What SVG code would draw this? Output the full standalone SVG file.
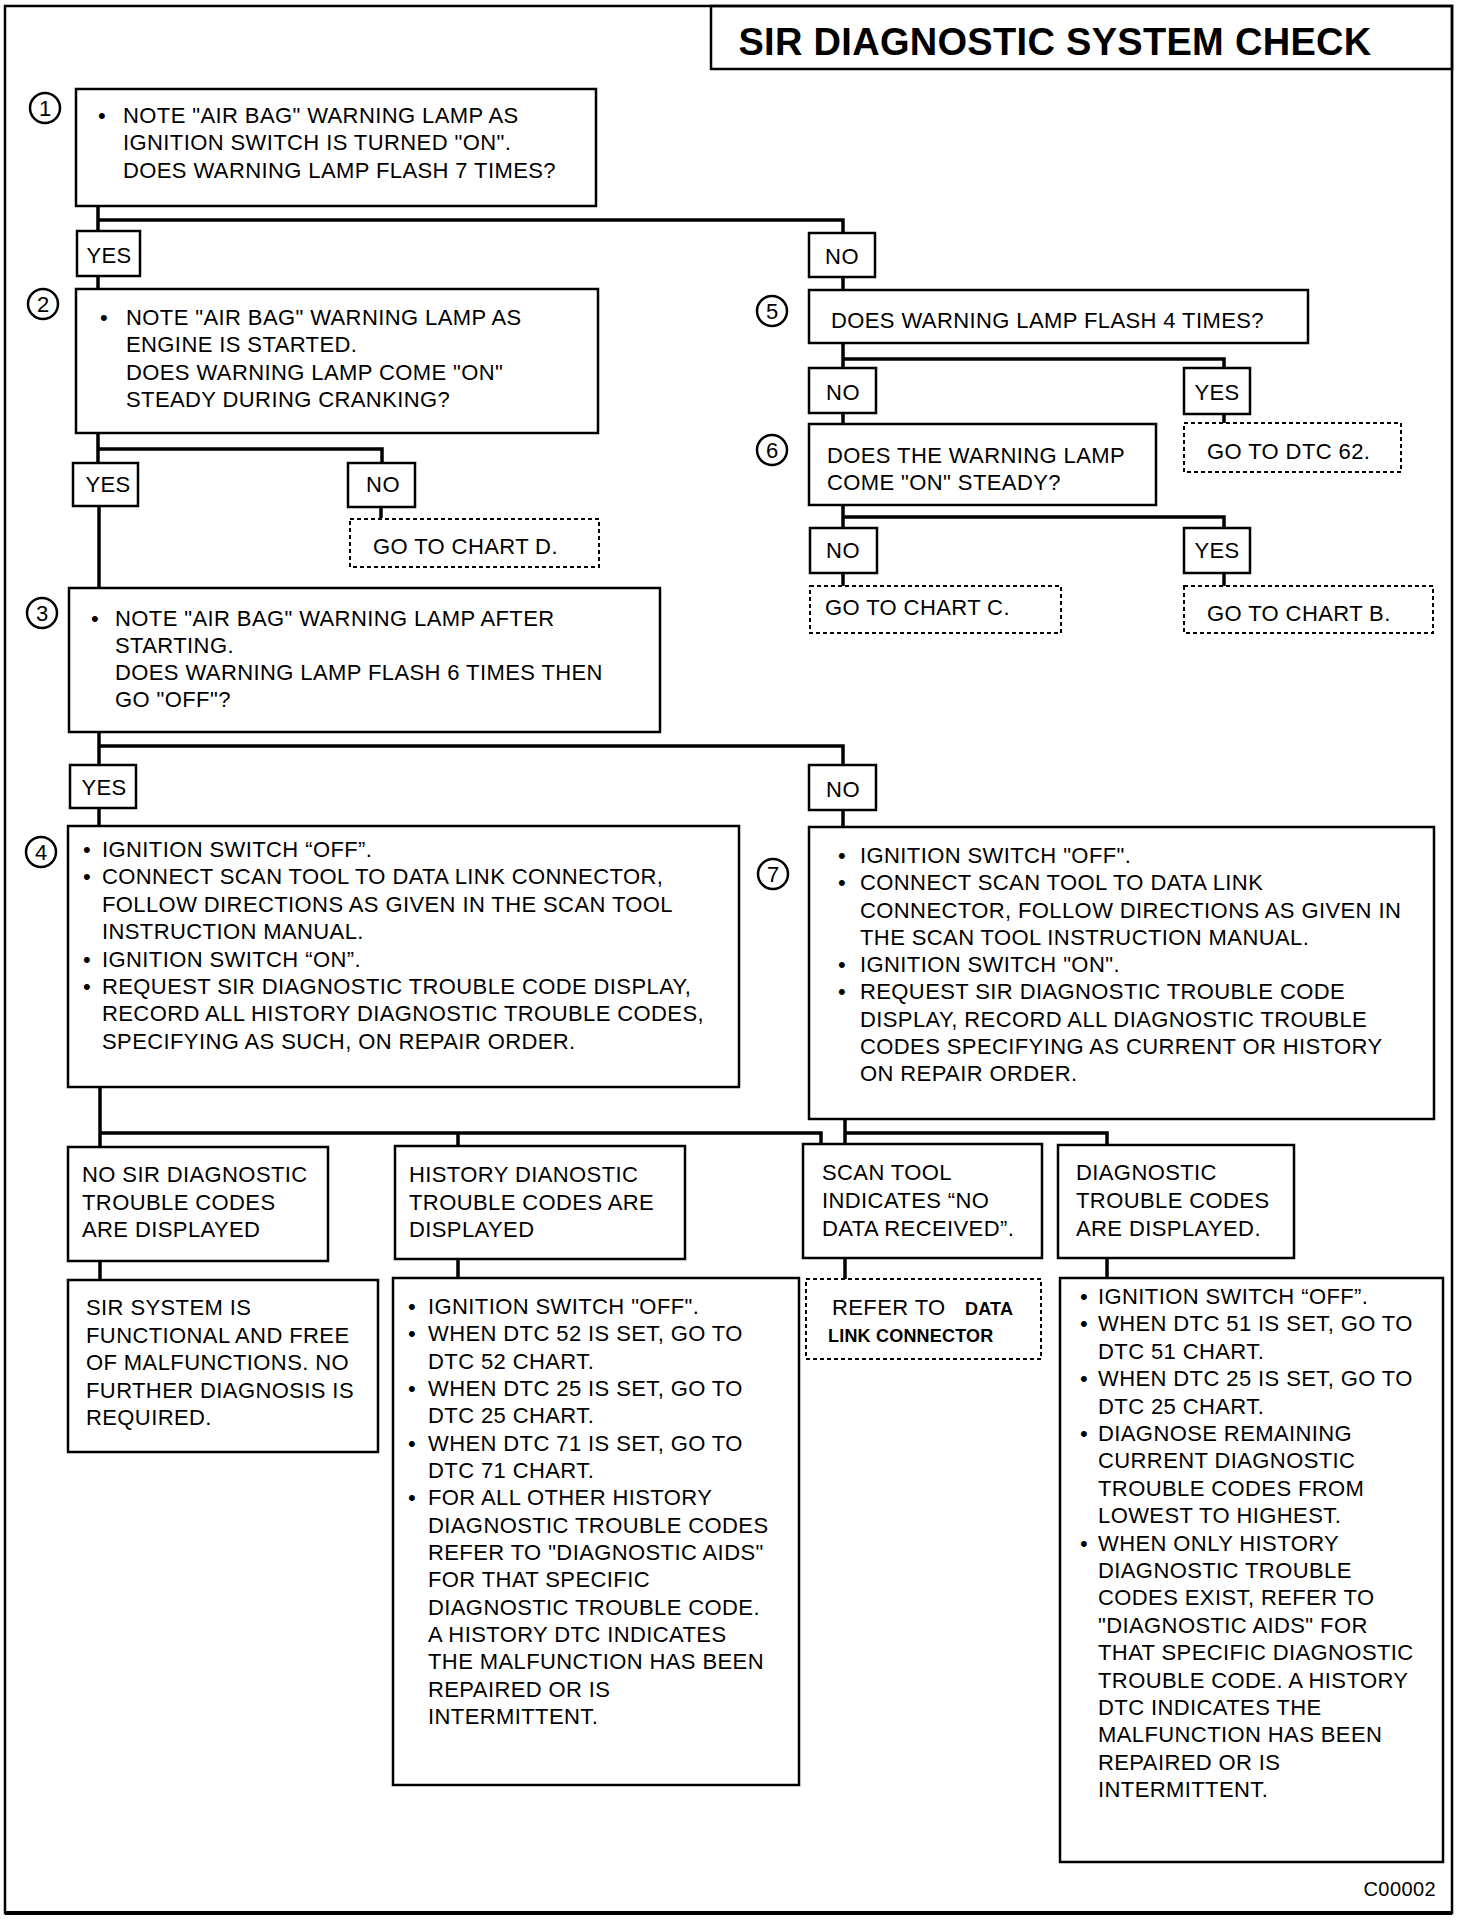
<svg xmlns="http://www.w3.org/2000/svg" width="1472" height="1922" viewBox="0 0 1472 1922">
<style>
.t{font-family:"Liberation Sans",Arial,sans-serif;font-size:22px;letter-spacing:0.4px;fill:#000}
.c{text-anchor:middle}
.b{font-weight:bold;font-size:18px;letter-spacing:0.2px}
.box{fill:#fff;stroke:#000;stroke-width:2.5}
.dash{fill:#fff;stroke:#000;stroke-width:2;stroke-dasharray:4 3}
.conn{fill:none;stroke:#000;stroke-width:3.5}
.circ{fill:#fff;stroke:#000;stroke-width:2.5}
.num{font-family:"Liberation Sans",Arial,sans-serif;font-size:22px;text-anchor:middle;fill:#000}
.frame{fill:none;stroke:#000;stroke-width:2.5}
</style>
<rect width="1472" height="1922" fill="#fff"/>
<g id="frame">
<rect class="frame" x="5" y="6" width="1447" height="1907"/>
<line x1="5" y1="1913" x2="1452" y2="1913" stroke="#000" stroke-width="4"/>
</g>
<g id="title">
<rect class="frame" x="711" y="6" width="741" height="63"/>
<text class="t" x="1055" y="55" style="font-weight:bold;font-size:38px;letter-spacing:0.3px;text-anchor:middle">SIR DIAGNOSTIC SYSTEM CHECK</text>
</g>
<g id="connectors">
<path class="conn" d="M98 206V231M98 220H843V233M98 276V289M843 277V289"/>
<path class="conn" d="M98 433V463M98 449H382V463M99 506V588M381 507V518"/>
<path class="conn" d="M99 732V765M99 746H843V765M99 808V826M843 810V827"/>
<path class="conn" d="M843 343V368M843 359H1224V368M843 413V424M1224 414V423"/>
<path class="conn" d="M843 505V528M843 517H1224V528M843 573V586M1224 573V586"/>
<path class="conn" d="M100 1087V1147M100 1133H821V1144M458 1133V1146M845 1119V1144M845 1133H1107V1145"/>
<path class="conn" d="M100 1261V1280M458 1259V1278M845 1258V1279M1107 1258V1278"/>
</g>
<g id="n1">
<circle class="circ" cx="45" cy="108" r="15"/><text class="num" x="45" y="116">1</text>
<rect class="box" x="76" y="89" width="520" height="117"/>
<text class="t" x="98" y="123">•</text>
<text class="t" x="123" y="123">NOTE "AIR BAG" WARNING LAMP AS</text>
<text class="t" x="123" y="150">IGNITION SWITCH IS TURNED "ON".</text>
<text class="t" x="123" y="178">DOES WARNING LAMP FLASH 7 TIMES?</text>
</g>
<g id="yes1"><rect class="box" x="77" y="231" width="63" height="45"/><text class="t c" x="109" y="263">YES</text></g>
<g id="no1"><rect class="box" x="809" y="233" width="66" height="44"/><text class="t c" x="842" y="264">NO</text></g>
<g id="n2">
<circle class="circ" cx="43" cy="304" r="15"/><text class="num" x="43" y="312">2</text>
<rect class="box" x="76" y="289" width="522" height="144"/>
<text class="t" x="100" y="325">•</text>
<text class="t" x="126" y="325">NOTE "AIR BAG" WARNING LAMP AS</text>
<text class="t" x="126" y="352">ENGINE IS STARTED.</text>
<text class="t" x="126" y="380">DOES WARNING LAMP COME "ON"</text>
<text class="t" x="126" y="407">STEADY DURING CRANKING?</text>
</g>
<g id="yes2"><rect class="box" x="73" y="463" width="65" height="43"/><text class="t c" x="108" y="492">YES</text></g>
<g id="no2"><rect class="box" x="348" y="463" width="67" height="44"/><text class="t c" x="383" y="492">NO</text></g>
<g id="chartD"><rect class="dash" x="350" y="519" width="249" height="48"/><text class="t" x="373" y="554">GO TO CHART D.</text></g>
<g id="n3">
<circle class="circ" cx="42" cy="613" r="15"/><text class="num" x="42" y="621">3</text>
<rect class="box" x="69" y="588" width="591" height="144"/>
<text class="t" x="91" y="626">•</text>
<text class="t" x="115" y="626">NOTE "AIR BAG" WARNING LAMP AFTER</text>
<text class="t" x="115" y="653">STARTING.</text>
<text class="t" x="115" y="680">DOES WARNING LAMP FLASH 6 TIMES THEN</text>
<text class="t" x="115" y="707">GO "OFF"?</text>
</g>
<g id="yes3"><rect class="box" x="70" y="765" width="66" height="43"/><text class="t c" x="104" y="795">YES</text></g>
<g id="no3"><rect class="box" x="809" y="765" width="67" height="45"/><text class="t c" x="843" y="797">NO</text></g>
<g id="n4">
<circle class="circ" cx="41" cy="852" r="15"/><text class="num" x="41" y="860">4</text>
<rect class="box" x="68" y="826" width="671" height="261"/>
<text class="t" x="83" y="857">•</text><text class="t" x="102" y="857">IGNITION SWITCH “OFF”.</text>
<text class="t" x="83" y="884">•</text><text class="t" x="102" y="884">CONNECT SCAN TOOL TO DATA LINK CONNECTOR,</text>
<text class="t" x="102" y="912">FOLLOW DIRECTIONS AS GIVEN IN THE SCAN TOOL</text>
<text class="t" x="102" y="939">INSTRUCTION MANUAL.</text>
<text class="t" x="83" y="967">•</text><text class="t" x="102" y="967">IGNITION SWITCH “ON”.</text>
<text class="t" x="83" y="994">•</text><text class="t" x="102" y="994">REQUEST SIR DIAGNOSTIC TROUBLE CODE DISPLAY,</text>
<text class="t" x="102" y="1021">RECORD ALL HISTORY DIAGNOSTIC TROUBLE CODES,</text>
<text class="t" x="102" y="1049">SPECIFYING AS SUCH, ON REPAIR ORDER.</text>
</g>
<g id="n5">
<circle class="circ" cx="772" cy="311" r="15"/><text class="num" x="772" y="319">5</text>
<rect class="box" x="809" y="290" width="499" height="53"/>
<text class="t" x="831" y="328">DOES WARNING LAMP FLASH 4 TIMES?</text>
</g>
<g id="no5"><rect class="box" x="809" y="368" width="67" height="45"/><text class="t c" x="843" y="400">NO</text></g>
<g id="yes5"><rect class="box" x="1184" y="368" width="66" height="46"/><text class="t c" x="1217" y="400">YES</text></g>
<g id="dtc62"><rect class="dash" x="1184" y="423" width="217" height="49"/><text class="t" x="1207" y="459">GO TO DTC 62.</text></g>
<g id="n6">
<circle class="circ" cx="772" cy="450" r="15"/><text class="num" x="772" y="458">6</text>
<rect class="box" x="809" y="424" width="347" height="81"/>
<text class="t" x="827" y="463">DOES THE WARNING LAMP</text>
<text class="t" x="827" y="490">COME "ON" STEADY?</text>
</g>
<g id="no6"><rect class="box" x="810" y="528" width="67" height="45"/><text class="t c" x="843" y="558">NO</text></g>
<g id="yes6"><rect class="box" x="1184" y="528" width="66" height="45"/><text class="t c" x="1217" y="558">YES</text></g>
<g id="chartC"><rect class="dash" x="810" y="586" width="251" height="47"/><text class="t" x="825" y="615">GO TO CHART C.</text></g>
<g id="chartB"><rect class="dash" x="1184" y="586" width="249" height="47"/><text class="t" x="1207" y="621">GO TO CHART B.</text></g>
<g id="n7">
<circle class="circ" cx="773" cy="874" r="15"/><text class="num" x="773" y="882">7</text>
<rect class="box" x="809" y="827" width="625" height="292"/>
<text class="t" x="838" y="863">•</text><text class="t" x="860" y="863">IGNITION SWITCH "OFF".</text>
<text class="t" x="838" y="890">•</text><text class="t" x="860" y="890">CONNECT SCAN TOOL TO DATA LINK</text>
<text class="t" x="860" y="918">CONNECTOR, FOLLOW DIRECTIONS AS GIVEN IN</text>
<text class="t" x="860" y="945">THE SCAN TOOL INSTRUCTION MANUAL.</text>
<text class="t" x="838" y="972">•</text><text class="t" x="860" y="972">IGNITION SWITCH "ON".</text>
<text class="t" x="838" y="999">•</text><text class="t" x="860" y="999">REQUEST SIR DIAGNOSTIC TROUBLE CODE</text>
<text class="t" x="860" y="1027">DISPLAY, RECORD ALL DIAGNOSTIC TROUBLE</text>
<text class="t" x="860" y="1054">CODES SPECIFYING AS CURRENT OR HISTORY</text>
<text class="t" x="860" y="1081">ON REPAIR ORDER.</text>
</g>
<g id="noCodes">
<rect class="box" x="68" y="1147" width="260" height="114"/>
<text class="t" x="82" y="1182">NO SIR DIAGNOSTIC</text>
<text class="t" x="82" y="1210">TROUBLE CODES</text>
<text class="t" x="82" y="1237">ARE DISPLAYED</text>
</g>
<g id="historyCodes">
<rect class="box" x="395" y="1146" width="290" height="113"/>
<text class="t" x="409" y="1182">HISTORY DIANOSTIC</text>
<text class="t" x="409" y="1210">TROUBLE CODES ARE</text>
<text class="t" x="409" y="1237">DISPLAYED</text>
</g>
<g id="noData">
<rect class="box" x="803" y="1144" width="239" height="114"/>
<text class="t" x="822" y="1180">SCAN TOOL</text>
<text class="t" x="822" y="1208">INDICATES “NO</text>
<text class="t" x="822" y="1236">DATA RECEIVED”.</text>
</g>
<g id="codesDisplayed">
<rect class="box" x="1058" y="1145" width="236" height="113"/>
<text class="t" x="1076" y="1180">DIAGNOSTIC</text>
<text class="t" x="1076" y="1208">TROUBLE CODES</text>
<text class="t" x="1076" y="1236">ARE DISPLAYED.</text>
</g>
<g id="functional">
<rect class="box" x="68" y="1280" width="310" height="172"/>
<text class="t" x="86" y="1315">SIR SYSTEM IS</text>
<text class="t" x="86" y="1343">FUNCTIONAL AND FREE</text>
<text class="t" x="86" y="1370">OF MALFUNCTIONS. NO</text>
<text class="t" x="86" y="1398">FURTHER DIAGNOSIS IS</text>
<text class="t" x="86" y="1425">REQUIRED.</text>
</g>
<g id="historyActions">
<rect class="box" x="393" y="1278" width="406" height="507"/>
<text class="t" x="408" y="1314">•</text><text class="t" x="428" y="1314">IGNITION SWITCH "OFF".</text>
<text class="t" x="408" y="1341">•</text><text class="t" x="428" y="1341">WHEN DTC 52 IS SET, GO TO</text>
<text class="t" x="428" y="1369">DTC 52 CHART.</text>
<text class="t" x="408" y="1396">•</text><text class="t" x="428" y="1396">WHEN DTC 25 IS SET, GO TO</text>
<text class="t" x="428" y="1423">DTC 25 CHART.</text>
<text class="t" x="408" y="1451">•</text><text class="t" x="428" y="1451">WHEN DTC 71 IS SET, GO TO</text>
<text class="t" x="428" y="1478">DTC 71 CHART.</text>
<text class="t" x="408" y="1505">•</text><text class="t" x="428" y="1505">FOR ALL OTHER HISTORY</text>
<text class="t" x="428" y="1533">DIAGNOSTIC TROUBLE CODES</text>
<text class="t" x="428" y="1560">REFER TO "DIAGNOSTIC AIDS"</text>
<text class="t" x="428" y="1587">FOR THAT SPECIFIC</text>
<text class="t" x="428" y="1615">DIAGNOSTIC TROUBLE CODE.</text>
<text class="t" x="428" y="1642">A HISTORY DTC INDICATES</text>
<text class="t" x="428" y="1669">THE MALFUNCTION HAS BEEN</text>
<text class="t" x="428" y="1697">REPAIRED OR IS</text>
<text class="t" x="428" y="1724">INTERMITTENT.</text>
</g>
<g id="referDLC">
<rect class="dash" x="806" y="1279" width="235" height="80"/>
<text class="t" x="832" y="1315">REFER TO</text>
<text class="t b" x="965" y="1315">DATA</text>
<text class="t b" x="828" y="1342">LINK CONNECTOR</text>
</g>
<g id="codesActions">
<rect class="box" x="1060" y="1278" width="383" height="584"/>
<text class="t" x="1080" y="1304">•</text><text class="t" x="1098" y="1304">IGNITION SWITCH “OFF”.</text>
<text class="t" x="1080" y="1331">•</text><text class="t" x="1098" y="1331">WHEN DTC 51 IS SET, GO TO</text>
<text class="t" x="1098" y="1359">DTC 51 CHART.</text>
<text class="t" x="1080" y="1386">•</text><text class="t" x="1098" y="1386">WHEN DTC 25 IS SET, GO TO</text>
<text class="t" x="1098" y="1414">DTC 25 CHART.</text>
<text class="t" x="1080" y="1441">•</text><text class="t" x="1098" y="1441">DIAGNOSE REMAINING</text>
<text class="t" x="1098" y="1468">CURRENT DIAGNOSTIC</text>
<text class="t" x="1098" y="1496">TROUBLE CODES FROM</text>
<text class="t" x="1098" y="1523">LOWEST TO HIGHEST.</text>
<text class="t" x="1080" y="1551">•</text><text class="t" x="1098" y="1551">WHEN ONLY HISTORY</text>
<text class="t" x="1098" y="1578">DIAGNOSTIC TROUBLE</text>
<text class="t" x="1098" y="1605">CODES EXIST, REFER TO</text>
<text class="t" x="1098" y="1633">"DIAGNOSTIC AIDS" FOR</text>
<text class="t" x="1098" y="1660">THAT SPECIFIC DIAGNOSTIC</text>
<text class="t" x="1098" y="1688">TROUBLE CODE. A HISTORY</text>
<text class="t" x="1098" y="1715">DTC INDICATES THE</text>
<text class="t" x="1098" y="1742">MALFUNCTION HAS BEEN</text>
<text class="t" x="1098" y="1770">REPAIRED OR IS</text>
<text class="t" x="1098" y="1797">INTERMITTENT.</text>
</g>
<g id="code">
<text class="t" x="1436" y="1896" style="font-size:20px;text-anchor:end">C00002</text>
</g>
</svg>
